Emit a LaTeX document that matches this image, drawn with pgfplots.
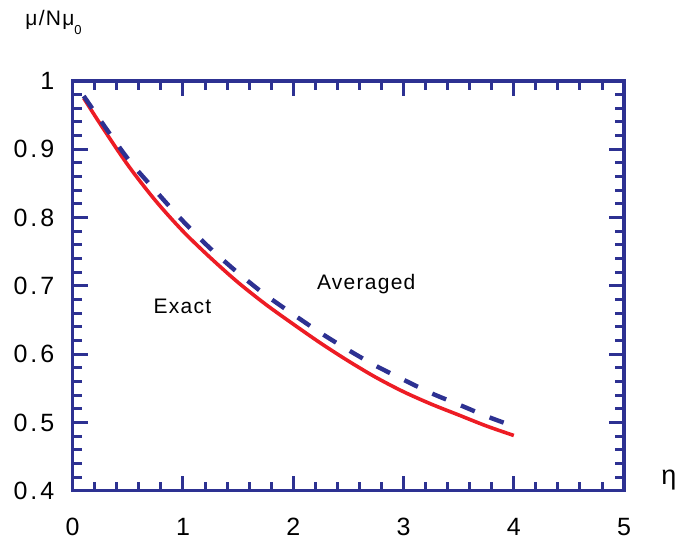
\documentclass[border=0pt]{standalone}
\usepackage{pgfplots}
\pgfplotsset{compat=1.18}
\usepackage{fontspec}
\setmainfont{Liberation Sans}
\newfontfamily\ticksfont[LetterSpace=12]{Liberation Sans}
\newfontfamily\labelfont[LetterSpace=6]{Liberation Sans}

\definecolor{frameblue}{RGB}{45,49,146}
\definecolor{curvered}{RGB}{237,28,36}

\begin{document}
\begin{tikzpicture}
\useasboundingbox (-36.35pt,-27.1pt) rectangle (310.15pt,245.4pt);
\begin{axis}[
  at={(0pt,0pt)}, anchor=south west,
  scale only axis,
  width=275.7pt, height=204.9pt,
  xmin=0, xmax=5, ymin=0.4, ymax=1,
  xtick={0,1,2,3,4,5},
  ytick={0.4,0.5,0.6,0.7,0.8,0.9,1},
  minor x tick num=4, minor y tick num=4,
  xtick pos=both, ytick pos=both,
  xticklabel pos=lower, yticklabel pos=left,
  tick align=inside,
  major tick length=7.5pt, minor tick length=4.5pt,
  every tick/.style={frameblue, line width=1.5pt},
  axis line style={frameblue, line width=1.6pt},
  /pgf/number format/assume math mode=true,
  /pgf/number format/fixed,
  /pgf/number format/precision=1,
  ticklabel style={font=\ticksfont\fontsize{12.5pt}{14pt}\selectfont, inner sep=0pt},
  xticklabel style={anchor=north, yshift=-13.6pt},
  yticklabel style={anchor=east, xshift=-9pt},
  clip=false,
]
% exact magnetization
\addplot[curvered, line width=1.8pt, smooth, line join=round] coordinates {
  (0.10,0.975) (0.25,0.937) (0.50,0.877) (0.75,0.825) (1.00,0.780)
  (1.25,0.741) (1.50,0.705) (1.75,0.673) (2.00,0.644) (2.25,0.616)
  (2.50,0.590) (2.75,0.566) (3.00,0.545) (3.25,0.527) (3.50,0.511)
  (3.75,0.495) (4.00,0.481)
};
% averaged approximation
\addplot[frameblue, line width=2.2pt, smooth, dash pattern=on 7.5pt off 8pt, line join=round] coordinates {
  (0.10,0.978) (0.335,0.923) (0.525,0.881) (0.747,0.840) (0.97,0.800)
  (1.22,0.759) (1.47,0.723) (1.73,0.689) (1.976,0.661) (2.24,0.632)
  (2.49,0.607) (2.737,0.584) (2.995,0.563) (3.25,0.543) (3.505,0.526)
  (3.755,0.509) (3.99,0.495)
};
\end{axis}
\node[anchor=base west, inner sep=0pt, font=\labelfont\fontsize{10.5pt}{12pt}\selectfont] at (40.3pt,88.75pt) {Exact};
\node[anchor=base west, inner sep=0pt, font=\labelfont\fontsize{10.5pt}{12pt}\selectfont] at (122pt,100.75pt) {Averaged};
\node[anchor=base, inner sep=0pt, font=\fontsize{13.5pt}{15pt}\selectfont] at (298.15pt,2.9pt) {η};
\node[anchor=base west, inner sep=0pt, font=\labelfont\fontsize{10.5pt}{12pt}\selectfont] at (-23.85pt,232.4pt) {μ/Nμ\raisebox{-4.5pt}{\fontsize{6.5pt}{7pt}\selectfont 0}};
\end{tikzpicture}
\end{document}
